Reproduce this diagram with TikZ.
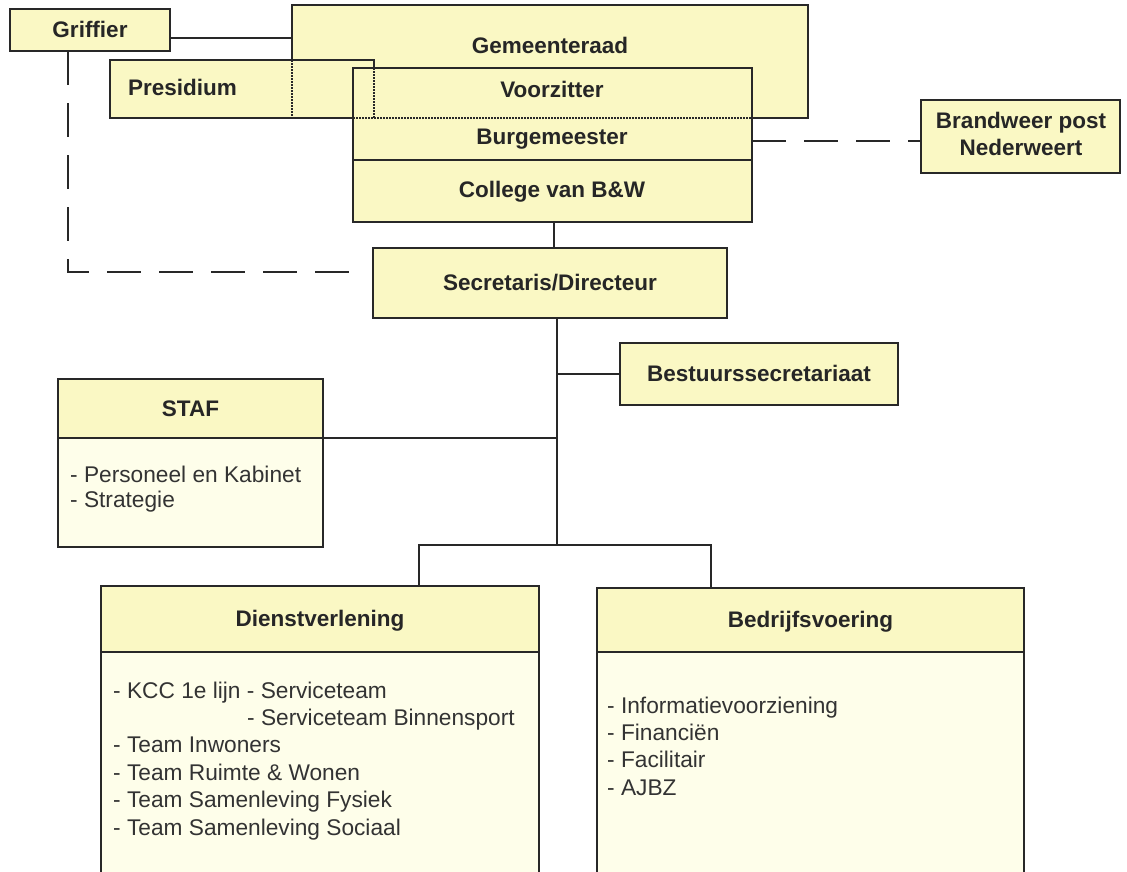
\documentclass[tikz,border=0pt]{standalone}
\usepackage{fontspec}
\setmainfont{Liberation Sans}
\usetikzlibrary{calc}
\definecolor{hdr}{RGB}{250,248,196}
\definecolor{bodyc}{RGB}{254,254,234}
\definecolor{bord}{RGB}{40,40,40}
\newcommand\mytitlefont{\fontsize{22.5}{27}\selectfont\bfseries}
\newcommand\myitemfont{\fontsize{22.7}{27}\selectfont}
\tikzset{
  boxn/.style={draw=bord, line width=1.6pt, fill=hdr, inner sep=0pt, outer sep=0pt, font=\mytitlefont, text height=15.5pt, text depth=0pt, text=black!85},
  bodyn/.style={draw=bord, line width=1.6pt, fill=bodyc, inner sep=0pt, outer sep=0pt},
  conn/.style={draw=bord, line width=1.8pt},
  dashconn/.style={conn, dash pattern=on 34pt off 18pt},
  hid/.style={draw=bord, line width=1.2pt, dash pattern=on 1.5pt off 1.5pt},
  item/.style={anchor=base west, inner sep=0pt, font=\myitemfont, text=black!80},
  ttl/.style={anchor=base, inner sep=0pt, font=\mytitlefont, text=black!85},
}
\begin{document}
\begin{tikzpicture}[x=1pt,y=-1pt]
\useasboundingbox (0,0) rectangle (1127,871);
\fill[white] (0,0) rectangle (1127,871);
\clip (0,0) rectangle (1127,871);

% top cluster
\node[boxn, minimum width=516pt, minimum height=113pt] (gr) at (550,61.5) {};
\node[ttl] (grt) at (550,53) {Gemeenteraad};
\node[boxn, minimum width=264pt, minimum height=58pt] (pr) at (242,89) {};
\node[ttl, anchor=base west] (prt) at (128,95) {Presidium};
\node[boxn, minimum width=399pt, minimum height=154pt] (bw) at (552.5,145) {};
\node[ttl] (vzt) at (552,97) {Voorzitter};
\node[ttl] (bmt) at (552,144) {Burgemeester};
\node[ttl] (cbt) at (552,197) {College van B\&W};
% hidden edges
\draw[hid] (gr.north west |- pr.north) -- (gr.south west);
\draw[hid] (pr.north east |- bw.north) -- (pr.south east);
\draw[hid] (bw.west |- gr.south) -- (bw.east |- gr.south);
\draw[draw=bord, line width=1.2pt] ($(bw.north west)+(0,92)$) -- ($(bw.north east)+(0,92)$);

% Griffier
\node[boxn, minimum width=160pt, minimum height=42pt] (gf) at (90,30) {Griffier};
\coordinate (gfa) at ($(gf.east)+(0,8)$);
\draw[conn] (gfa) -- (gfa -| gr.west);

% Brandweer
\node[boxn, minimum width=199pt, minimum height=73pt] (bp) at (1020.5,136.5) {};
\node[ttl] (bpt1) at (1021,128) {Brandweer post};
\node[ttl] (bpt2) at (1021,155) {Nederweert};
\coordinate (bwb) at ($(bw.east)+(0,-4)$);
\draw[dashconn] (bwb) -- (bwb -| bp.west);

% Secretaris
\node[boxn, minimum width=354pt, minimum height=70pt] (sec) at (550,283) {Secretaris/Directeur};
\coordinate (bwc) at ($(bw.south)+(1.5,0)$);
\draw[conn] (bwc) -- (bwc |- sec.north);
\coordinate (gend) at ($(sec.west)+(-11,-11)$);
\draw[dashconn] ($(gf.south)+(-22,0)$) |- (gend);

% trunk
\coordinate (t0) at ($(sec.south)+(7,0)$);
\coordinate (bar) at ($(sec.south)+(7,227)$);
\draw[conn] (t0) -- (bar);

% Bestuurssecretariaat
\node[boxn, minimum width=278pt, minimum height=62pt] (bs) at (759,374) {Bestuurssecretariaat};
\draw[conn] (bs.west) -- (bs.west -| t0);

% STAF
\node[boxn, minimum width=265pt, minimum height=59pt] (sh) at (190.5,408.5) {STAF};
\node[bodyn, minimum width=265pt, minimum height=109pt] (sb) at (190.5,492.5) {};
\draw[conn] (sh.south east) -- (sh.south east -| t0);
\node[item] (s1) at (70,482) {- Personeel en Kabinet};
\node[item] (s2) at (70,507) {- Strategie};

% Dienstverlening
\node[boxn, minimum width=438pt, minimum height=66pt] (dh) at (320,619) {Dienstverlening};
\node[bodyn, minimum width=438pt, minimum height=248pt] (db) at (320,776) {};
\node[item] (d1) at (113,698) {- KCC 1e lijn - Serviceteam};
\node[item] (d2) at (247,725.4) {- Serviceteam Binnensport};
\node[item] (d3) at (113,752.8) {- Team Inwoners};
\node[item] (d4) at (113,780.2) {- Team Ruimte \& Wonen};
\node[item] (d5) at (113,807.6) {- Team Samenleving Fysiek};
\node[item] (d6) at (113,835) {- Team Samenleving Sociaal};

% Bedrijfsvoering
\node[boxn, minimum width=427pt, minimum height=64pt] (bh) at (810.5,620) {Bedrijfsvoering};
\node[bodyn, minimum width=427pt, minimum height=248pt] (bb) at (810.5,776) {};
\node[item] (b1) at (607,713) {- Informatievoorziening};
\node[item] (b2) at (607,740.3) {- Financiën};
\node[item] (b3) at (607,767.6) {- Facilitair};
\node[item] (b4) at (607,795) {- AJBZ};

% branch to the two departments
\coordinate (dtop) at ($(dh.north)+(99,0)$);
\coordinate (btop) at ($(bh.north)+(-99.5,0)$);
\draw[conn] (dtop) |- (bar) -| (btop);
\end{tikzpicture}
\end{document}
